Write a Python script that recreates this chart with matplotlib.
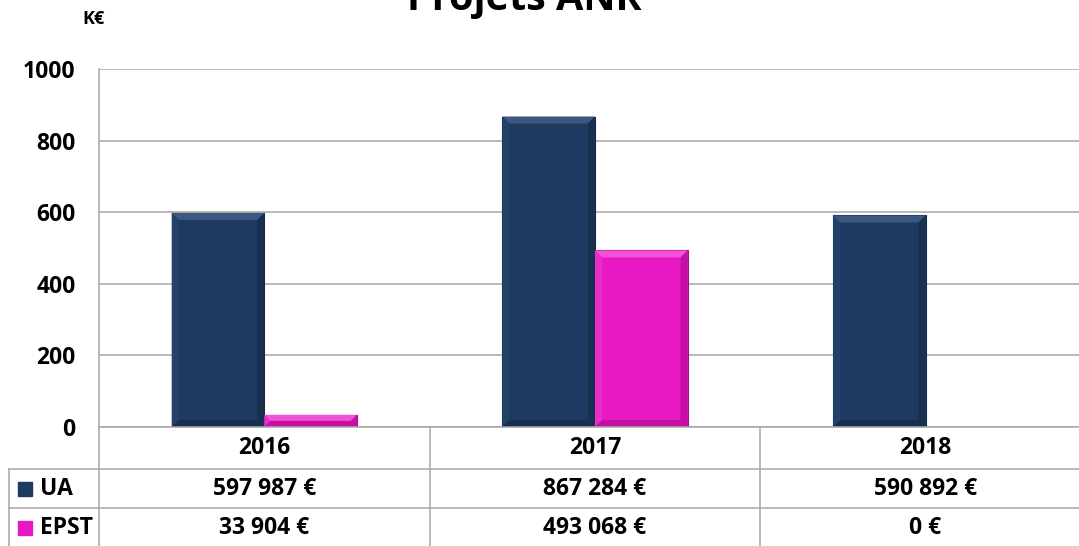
import matplotlib
matplotlib.use("Agg")
import matplotlib.pyplot as plt
from matplotlib.patches import Polygon, Rectangle
from matplotlib.lines import Line2D

plt.rcParams['font.family'] = ['Open Sans', 'DejaVu Sans']
plt.rcParams['font.weight'] = 'bold'

years = ['2016', '2017', '2018']
series = ['UA', 'EPST']
ua = [597.987, 867.284, 590.892]
epst = [33.904, 493.068, 0.0]
ua_txt = ['597 987 €', '867 284 €', '590 892 €']
epst_txt = ['33 904 €', '493 068 €', '0 €']
yticks = [0, 200, 400, 600, 800, 1000]

c_ua = '#1f3a60'
c_epst = '#e818c2'
grid_c = '#a6a6a6'
fs = 16.5

W, H = 1079, 546
fig = plt.figure(figsize=(W / 100, H / 100), dpi=100)

def fx(px):
    return px / W

def fy(py):
    return 1 - py / H

left, right, top, bottom = 99, 1091, 69, 427
ax = fig.add_axes([fx(left), fy(bottom), fx(right - left), (bottom - top) / H])
ax.set_xlim(-0.5, 2.5)
ax.set_ylim(0, 1000)

bw = 0.28
x = range(len(years))
b1 = ax.bar([i - bw / 2 for i in x], ua, bw, color=c_ua, edgecolor='#16294a', lw=0.8, zorder=3)
b2 = ax.bar([i + bw / 2 for i in x], epst, bw, color=c_epst, edgecolor='#a0108a', lw=0.8, zorder=3)

# small bevel round each bar
px_x = 1.0 / 331.0
px_y = 1000.0 / 358.0
def bevel(patches, light, side, dark):
    for p in patches:
        x0, y0, w, h = p.get_x(), p.get_y(), p.get_width(), p.get_height()
        if h <= 0:
            continue
        d = min(7, h / px_y / 2)
        dx, dy = d * px_x, d * px_y
        ax.add_patch(Polygon([(x0, y0 + h), (x0 + w, y0 + h), (x0 + w - dx, y0 + h - dy), (x0 + dx, y0 + h - dy)],
                             closed=True, color=light, lw=0, zorder=4))
        ax.add_patch(Polygon([(x0, y0 + h), (x0, y0), (x0 + dx, y0 + dy), (x0 + dx, y0 + h - dy)],
                             closed=True, color=side, lw=0, zorder=4))
        ax.add_patch(Polygon([(x0 + w, y0 + h), (x0 + w, y0), (x0 + w - dx, y0 + dy), (x0 + w - dx, y0 + h - dy)],
                             closed=True, color=dark, lw=0, zorder=4))
        ax.add_patch(Polygon([(x0, y0), (x0 + w, y0), (x0 + w - dx, y0 + dy), (x0 + dx, y0 + dy)],
                             closed=True, color=dark, lw=0, zorder=4))

bevel(b1, '#3a5880', '#24416a', '#182f50')
bevel(b2, '#f252d6', '#ea2cc8', '#c40fa3')

ax.set_yticks(yticks)
ax.set_yticklabels([str(t) for t in yticks], fontsize=fs, fontweight='bold')
ax.tick_params(axis='y', length=0, pad=17)
ax.set_xticks([])
ax.yaxis.grid(True, color=grid_c, lw=1.1, zorder=0)
for s in ['top', 'right', 'bottom']:
    ax.spines[s].set_visible(False)
ax.spines['left'].set_color(grid_c)
ax.spines['left'].set_linewidth(1.1)

fig.text(fx(524), fy(10), 'Projets ANR', ha='center', va='baseline', fontsize=28.5, fontweight='bold')
fig.text(fx(82), fy(19), 'K€', ha='left', va='center', fontsize=13, fontweight='bold')

# data table
col_edges = [99, 430, 760, 1091]
rows = [427, 469, 508, 546]
tl = dict(color=grid_c, lw=1.1, transform=fig.transFigure)
for yy in rows[1:3]:
    fig.add_artist(Line2D([fx(9), 1], [fy(yy), fy(yy)], **tl))
fig.add_artist(Line2D([fx(99), 1], [fy(427), fy(427)], **tl))
for xx in col_edges[:3]:
    fig.add_artist(Line2D([fx(xx), fx(xx)], [fy(427), fy(546)], **tl))
fig.add_artist(Line2D([fx(9), fx(9)], [fy(469), fy(546)], **tl))

for i, yr in enumerate(years):
    cx = (col_edges[i] + col_edges[i + 1]) / 2
    fig.text(fx(cx), fy(448), yr, ha='center', va='center', fontsize=fs, fontweight='bold')
    fig.text(fx(cx), fy(489), ua_txt[i], ha='center', va='center', fontsize=fs, fontweight='bold')
    fig.text(fx(cx), fy(528), epst_txt[i], ha='center', va='center', fontsize=fs, fontweight='bold')

for name, col, yc in [(series[0], c_ua, 489), (series[1], c_epst, 528)]:
    fig.add_artist(Rectangle((fx(18), fy(yc + 7)), fx(14), 14 / H, color=col, transform=fig.transFigure))
    fig.text(fx(40), fy(yc), name, ha='left', va='center', fontsize=fs, fontweight='bold')

fig.savefig('out.png', dpi=100)
